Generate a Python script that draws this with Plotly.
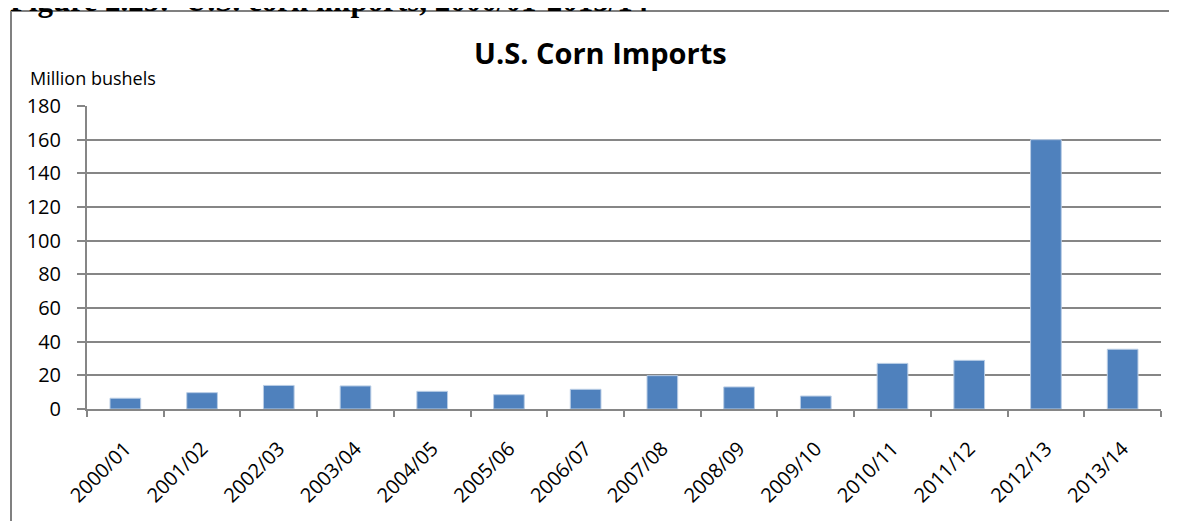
import plotly.graph_objects as go

years = ["2000/01", "2001/02", "2002/03", "2003/04", "2004/05", "2005/06", "2006/07",
         "2007/08", "2008/09", "2009/10", "2010/11", "2011/12", "2012/13", "2013/14"]
imports = [6.4, 9.7, 14.0, 13.7, 10.5, 8.5, 11.7, 19.8, 13.1, 7.7, 27.1, 28.9, 160.0, 35.5]
y_ticks = list(range(0, 181, 20))

OFF = 8  # page body margin
W, H = 1177 - OFF, 521 - OFF
L, R, T, B = 79, 16, 98, 112
pw, ph = W - L - R, H - T - B

def px_x(x):
    return (x - OFF - L) / pw

def px_y(y):
    return (H - B - (y - OFF)) / ph

FONT = "Open Sans"
GRAY = "#868686"

fig = go.Figure(go.Bar(
    x=years, y=imports,
    marker=dict(color="#4F81BD", line=dict(color="#B9CDE5", width=1)),
    width=0.4,
))

fig.update_layout(
    width=W, height=H,
    margin=dict(l=L, r=R, t=T, b=B),
    paper_bgcolor="white", plot_bgcolor="white",
    showlegend=False,
    font=dict(family=FONT, color="black", size=20),
)

fig.update_xaxes(
    type="category", tickson="boundaries", ticks="outside", ticklen=6,
    tickcolor=GRAY, tickwidth=2, showline=True, linecolor=GRAY, linewidth=2,
    tickangle=-45, tickfont=dict(family=FONT, size=20), showgrid=False,
    ticklabelstandoff=18,
)
fig.update_yaxes(
    range=[0, 180], tickvals=y_ticks, ticks="outside", ticklen=8,
    tickcolor=GRAY, tickwidth=2, showline=True, linecolor=GRAY, linewidth=2,
    showgrid=True, gridcolor=GRAY, gridwidth=2, zeroline=False,
    tickfont=dict(family=FONT, size=20), ticklabelstandoff=12,
)

# outer frame (left and top edges)
fig.add_shape(type="line", xref="paper", yref="paper",
              x0=px_x(11), x1=px_x(11), y0=px_y(11), y1=px_y(540),
              line=dict(color="#808080", width=2))
fig.add_shape(type="line", xref="paper", yref="paper",
              x0=px_x(11), x1=px_x(1200), y0=px_y(11), y1=px_y(11),
              line=dict(color="#808080", width=2))

fig.add_annotation(text="<b>Figure 2.23:  U.S. corn imports, 2000/01-2013/14</b>",
                   xref="paper", yref="paper", x=px_x(8), y=px_y(0),
                   xanchor="left", yanchor="middle", showarrow=False,
                   font=dict(family="Liberation Serif", size=31, color="black"))
fig.add_annotation(text="<b>U.S. Corn Imports</b>",
                   xref="paper", yref="paper", x=px_x(600), y=px_y(52),
                   xanchor="center", yanchor="middle", showarrow=False,
                   font=dict(family=FONT, size=29, color="black"))
fig.add_annotation(text="Million bushels",
                   xref="paper", yref="paper", x=px_x(28), y=px_y(78),
                   xanchor="left", yanchor="middle", showarrow=False,
                   font=dict(family=FONT, size=18, color="black"))

fig.write_html("out.html")
